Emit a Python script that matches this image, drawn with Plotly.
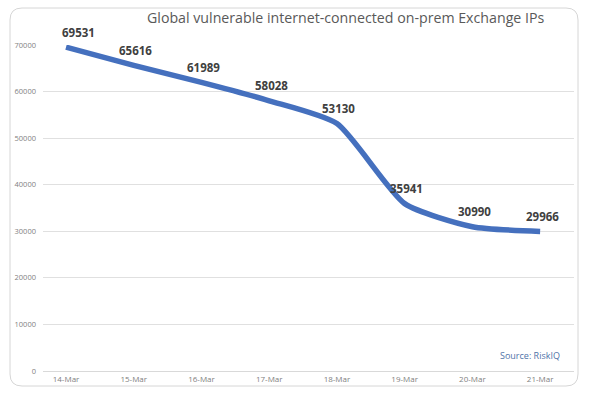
import plotly.graph_objects as go

dates = ["14-Mar", "15-Mar", "16-Mar", "17-Mar", "18-Mar", "19-Mar", "20-Mar", "21-Mar"]
ips = [69531, 65616, 61989, 58028, 53130, 35941, 30990, 29966]
y_ticks = [0, 10000, 20000, 30000, 40000, 50000, 60000, 70000]

W, H = 590, 395
L, R, T, B = 43, 574, 45, 371  # plot area in pixels

def px(x):
    return (x - L) / (R - L)

def py(y):
    return (B - y) / (B - T)

FONT = "Open Sans, Liberation Sans, sans-serif"

fig = go.Figure()
fig.add_trace(go.Scatter(
    x=list(range(len(dates))), y=ips,
    mode="lines",
    line=dict(color="#4570be", width=5.5, shape="spline", smoothing=0.6),
    hoverinfo="skip",
))

for i, v in enumerate(ips):
    fig.add_annotation(x=i, y=v, text=str(v), showarrow=False,
                       xshift=12 if i == 0 else 2, yshift=15,
                       font=dict(family=FONT, size=11.5, color="#404040", weight="bold"))

# rounded border
x0, y0, x1, y1, r = px(10), py(8), px(578), py(386), 12
rx, ry = r / (R - L), r / (B - T)
path = (f"M {x0+rx},{y0} L {x1-rx},{y0} Q {x1},{y0} {x1},{y0-ry} "
        f"L {x1},{y1+ry} Q {x1},{y1} {x1-rx},{y1} L {x0+rx},{y1} "
        f"Q {x0},{y1} {x0},{y1+ry} L {x0},{y0-ry} Q {x0},{y0} {x0+rx},{y0} Z")
fig.add_shape(type="path", path=path, xref="paper", yref="paper",
              line=dict(color="#d6d6d6", width=1), layer="below")

fig.add_annotation(text="Global vulnerable internet-connected on-prem Exchange IPs",
                   x=px(345), y=py(17), xref="paper", yref="paper",
                   showarrow=False, xanchor="center", yanchor="middle",
                   font=dict(family=FONT, size=14.2, color="#595959"))
fig.add_annotation(text="Source: RiskIQ",
                   x=px(562), y=py(355), xref="paper", yref="paper",
                   showarrow=False, xanchor="right", yanchor="middle",
                   font=dict(family=FONT, size=9, color="#4f73a8"))

fig.update_layout(
    width=W, height=H,
    margin=dict(l=L, r=W - R, t=T, b=H - B),
    paper_bgcolor="white", plot_bgcolor="white",
    showlegend=False,
    xaxis=dict(
        range=[-0.34, 7.5],
        tickmode="array", tickvals=list(range(len(dates))), ticktext=dates,
        tickfont=dict(family=FONT, size=8, color="#7f7f7f"),
        showgrid=False, zeroline=False,
        showline=True, linecolor="#d9d9d9", linewidth=1,
        ticks="", ticklen=0,
        fixedrange=True,
    ),
    yaxis=dict(
        range=[0, 70000],
        tickmode="array", tickvals=y_ticks, ticktext=[str(v) for v in y_ticks],
        tickfont=dict(family=FONT, size=7.5, color="#7f7f7f"),
        showgrid=True, gridcolor="#e0e0e0", gridwidth=1,
        zeroline=False, showline=False, ticks="", ticklabelstandoff=6,
        fixedrange=True,
    ),
)

fig.write_html("out.html")
